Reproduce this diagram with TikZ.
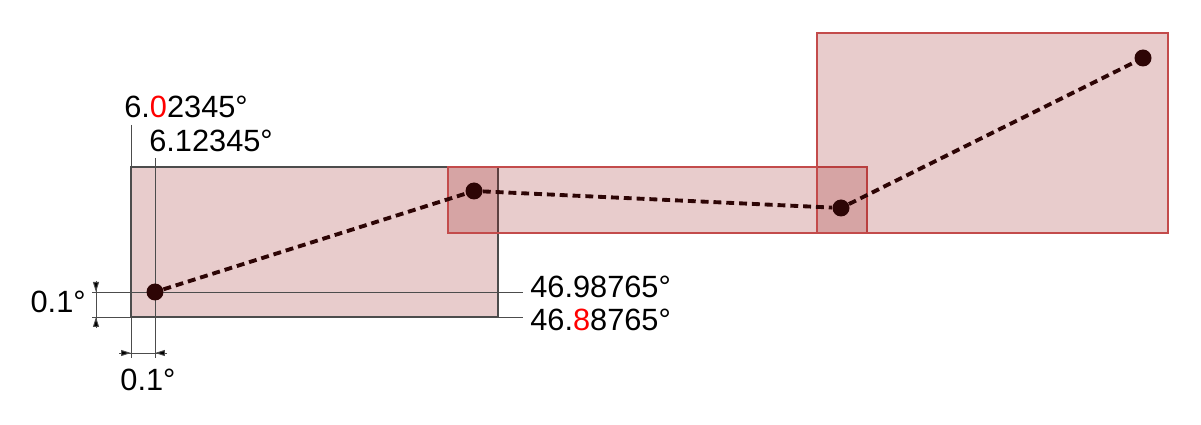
\documentclass[tikz,border=0pt]{standalone}
\usepackage{fontspec}
\setmainfont{Liberation Sans}
\usetikzlibrary{arrows.meta}

\definecolor{areared}{RGB}{151,23,23}
\definecolor{areaedge}{RGB}{195,75,75}
\definecolor{ptdark}{RGB}{45,5,5}

\begin{document}
\begin{tikzpicture}[
    x=0.02cm, y=-0.02cm,
    area/.style={fill=areared, fill opacity=0.22, draw=areaedge, line width=0.6pt},
    firstarea/.style={area, draw=black!70},
    pt/.style={circle, fill=ptdark, inner sep=0pt, minimum size=0.34cm},
    route/.style={draw=ptdark, line width=2.2pt, dash pattern=on 4.5pt off 2.8pt},
    guide/.style={draw=black!70, line width=0.55pt},
    dimtip/.style={guide, -{Triangle[length=0.2cm, width=0.12cm, fill=black]}},
    lbl/.style={font=\fontsize{17.5}{20}\selectfont, inner sep=0pt}
]
    \useasboundingbox (0,0) rectangle (1201,425);

    % Areas
    \draw[firstarea] (131,167) rectangle (498,317);
    \draw[area] (448,167) rectangle (867,233);
    \draw[area] (817,33) rectangle (1168,233);

    % Labels
    \node[lbl, anchor=west] (lonA) at (124,107) {6.{\color{red}0}2345°};
    \node[lbl, anchor=west] (lonB) at (149,141) {6.12345°};
    \node[lbl, anchor=west] (latA) at (530,287) {46.98765°};
    \node[lbl, anchor=west] (latB) at (530,320) {46.{\color{red}8}8765°};
    \node[lbl, anchor=east] (dlat) at (86,302) {0.1°};
    \node[lbl] (dlon) at (148,380) {0.1°};

    % Guide lines
    \coordinate (wtop) at (131,125);
    \coordinate (wbot) at (131,358);
    \coordinate (etop) at (155,158);
    \coordinate (ebot) at (155,358);
    \coordinate (nleft) at (92,292);
    \coordinate (nright) at (523,292);
    \coordinate (sleft) at (92,317);
    \coordinate (sright) at (523,317);
    \draw[guide] (wtop) -- (wbot);
    \draw[guide] (etop) -- (ebot);
    \draw[guide] (nleft) -- (nright);
    \draw[guide] (sleft) -- (sright);

    % Dimensions
    \coordinate (dn) at (96,281);
    \coordinate (ds) at (96,328);
    \coordinate (dw) at (119,353);
    \coordinate (de) at (167,353);
    \draw[guide] (dn) -- (ds);
    \draw[dimtip] (dn) -- (96,292);
    \draw[dimtip] (ds) -- (96,317);
    \draw[guide] (dw) -- (de);
    \draw[dimtip] (dw) -- (131,353);
    \draw[dimtip] (de) -- (155,353);

    % Points
    \node[pt] (p1) at (155,292) {};
    \node[pt] (p2) at (474,191) {};
    \node[pt] (p3) at (841,208) {};
    \node[pt] (p4) at (1143,58) {};
    \draw[route] (p1) -- (p2) -- (p3) -- (p4);

\end{tikzpicture}
\end{document}
